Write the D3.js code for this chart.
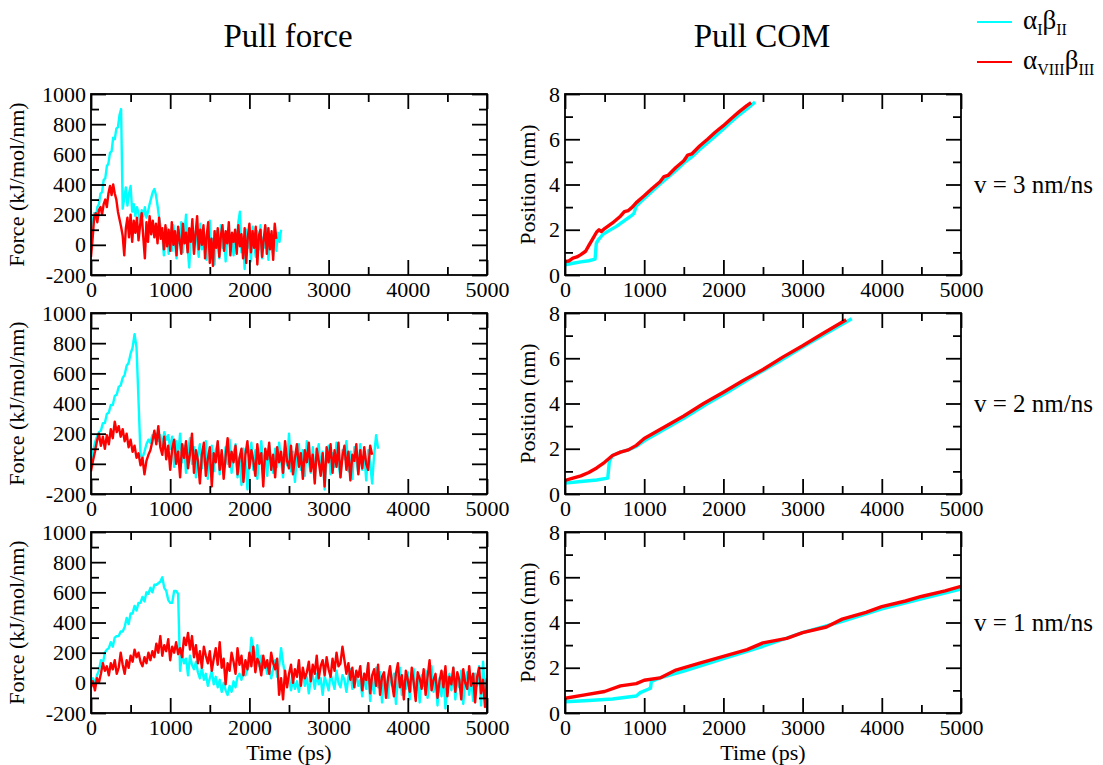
<!DOCTYPE html>
<html>
<head>
<meta charset="utf-8">
<script src="https://cdn.jsdelivr.net/npm/d3@7"></script>
<style>
  body { margin: 0; background: #fff; }
  text { font-family: "Liberation Serif", "Times New Roman", serif; fill: #000; }
</style>
</head>
<body>
<div id="chart"></div>
<script>
// time steps (ps) of the force traces
const forceStep = { v3: 20, v2: 25, v1: 25 };

// Pull force, v = 3 nm/ns
const forceCyanV3 = [
  0, 150, 210, 170, 250, 270, 340, 350, 430, 440,
  520, 540, 610, 620, 710, 700, 770, 780, 860, 900,
  240, 310, 380, 260, 340, 390, 220, 270, 190, 250,
  210, 160, 230, 190, 250, 180, 220, 270, 310, 350,
  370, 330, 260, 180, 120, 70, -70, 40, 110, -60,
  90, -40, 130, 20, -90, 100, 10, 150, -50, 80,
  200, -20, -150, 60, 120, -40, 90, 30, -80, 140,
  -30, 110, 0, -100, 80, 160, -60, 40, -130, 90,
  20, -90, 130, -20, 70, -110, 50, 110, -40, 30,
  -70, 90, 10, 150, 220, -50, 40, -160, 100, -20,
  60, -110, 120, 10, -80, 90, -30, 130, -90, 50,
  -20, 110, -100, 70, 0, -70, 120, -40, 80, 20,
  100
];
const forceRedV3 = [
  -80, 40, 180, 210, 150, 230, 250, 200, 270, 300,
  250, 340, 390, 330, 400, 340, 300, 220, 170, 120,
  60, -70, 110, 180, 50, 200, 20, 160, 80, 180,
  30, 130, 210, 50, -90, 150, 20, 190, 70, 160,
  50, 140, 10, 180, 40, 110, -30, 130, -10, 100,
  -40, 150, 0, 90, -70, 120, 30, -60, 140, 10,
  80, -50, 110, 20, 170, -60, 70, 190, -30, 100,
  0, 130, -90, 60, 150, -120, 40, -140, 90, -20,
  110, -80, 60, 130, -40, 90, 10, 150, -70, 80,
  20, 100, -60, 130, -10, 70, -90, 110, -120, 50,
  140, -50, 90, -20, 120, -130, 60, 100, -80, 30,
  130, -60, 110, -30, 90, -100, 140, 40
];

// Pull force, v = 2 nm/ns
const forceCyanV2 = [
  0, 80, 140, 180, 210, 220, 270, 270,
  330, 340, 390, 390, 450, 460, 510, 520,
  570, 590, 650, 670, 730, 770, 860, 770,
  420, 60, 40, 80, 130, 160, 140, 190,
  170, 200, 150, 190, 120, 210, 160, 190,
  100, 180, -20, 150, 60, 200, 10, 120,
  -60, 90, 170, 0, 110, -90, 60, 130,
  -30, 80, 150, -100, 40, 120, -50, 90,
  140, -70, 60, -20, 110, 0, 160, -60,
  70, 130, -90, 40, -140, 100, 20, -170,
  60, 140, -40, 90, -100, 50, 150, -30,
  80, -80, 120, 10, -60, 100, -20, 140,
  30, -90, 110, -10, 200, -50, 80, -120,
  60, 130, -40, 90, -80, 150, 20, -60,
  110, -100, 50, 130, -30, 80, -170, 40,
  120, -70, 70, -20, 140, 0, -90, 90,
  30, 150, -50, 80, -100, 110, 20, -60,
  130, -40, 70, -110, 90, 0, -130, 60,
  190, 100
];
const forceRedV2 = [
  -50, 20, 80, 150, 200, 120, 180, 100,
  190, 130, 230, 170, 280, 210, 250, 180,
  230, 150, 200, 110, 160, 80, 120, 40,
  70, -10, 40, -70, 20, 60, 90, 150,
  220, 130, 250, 110, 60, 180, 30, 120,
  -40, 100, 160, 0, 80, -90, 130, 40,
  150, -30, 70, 200, -60, 90, 20, -130,
  60, 140, -80, 30, 110, -150, 70, 10,
  150, -40, 90, -100, 50, 170, -20, 80,
  10, 120, -70, 40, 100, -120, 60, 150,
  -30, 90, 20, -80, 130, 0, 70, -150,
  100, 30, 140, -40, 60, -90, 110, 10,
  80, -60, 150, 20, -30, 120, -70, 40,
  130, -20, 70, -100, 90, 10, 140, -50,
  60, -130, 100, 20, -80, 70, -150, 110,
  10, 130, -60, 90, -20, 140, -90, 50,
  120, -40, 80, -110, 60, 20, 130, -70,
  90, -30, 110, 0, -40, 120, 60
];

// Pull force, v = 1 nm/ns
const forceCyanV1 = [
  0, 30, -10, 50, 80, 150, 130, 200,
  220, 230, 270, 240, 300, 310, 310, 340,
  340, 370, 430, 390, 460, 460, 510, 480,
  530, 530, 570, 540, 600, 590, 630, 600,
  650, 650, 660, 670, 700, 630, 610, 550,
  530, 530, 610, 610, 590, 80, 200, 130,
  160, 50, 180, 120, 90, 140, 70, 30,
  100, 20, 60, -20, 30, 80, -10, 40,
  -30, 20, -60, 0, -50, -80, -20, -60,
  10, -30, 40, 60, 20, 100, 50, 90,
  120, 300, 220, 160, 250, 110, 180, 90,
  140, 60, 120, 30, 90, 150, 40, 110,
  230, 130, 60, -10, 40, -50, 20, -40,
  10, -60, 30, 70, -20, 40, -70, 20,
  50, -40, 60, -10, 30, -80, 40, 0,
  -50, 60, 10, -40, 80, 0, -30, 50,
  20, -60, 40, 90, -40, 10, 60, -20,
  20, -90, 60, -40, 130, -120, 30, -70,
  100, -30, 70, -130, 50, 0, -100, 80,
  -20, 60, -140, 40, 100, -80, 10, -40,
  70, -110, 30, 90, -60, 20, -130, 50,
  -20, 80, -100, 10, 110, -60, 40, -150,
  30, -90, 70, -170, 20, 60, -50, 100,
  -110, 40, -30, 80, -140, 20, 70, -80,
  30, -120, 60, -20, 110, -150, 140, -60,
  50
];
const forceRedV1 = [
  -30, 10, -50, 30, 0, 60, 130, 80,
  110, 50, 130, 90, 150, 60, 100, 200,
  120, 60, 150, 100, 180, 140, 220, 170,
  200, 140, 110, 170, 130, 200, 150, 210,
  170, 260, 200, 310, 180, 250, 210, 290,
  150, 240, 200, 270, 190, 230, 170, 300,
  250, 330, 220, 310, 170, 250, 130, 210,
  100, 240, 180, 130, 210, 80, 160, 230,
  120, 270, 100, 160, -10, 130, 80, 200,
  140, 60, 230, 120, 180, 50, 150, 90,
  200, 110, 240, 70, 160, 130, 50, 180,
  100, 150, 60, 200, 130, 90, 160, -80,
  30, -110, 80, -30, 60, 120, 0, 90,
  40, 150, -20, 100, 30, 70, 140, 10,
  120, 60, 180, 30, 110, 150, 50, 170,
  90, 40, 160, 80, 200, 110, 130, 240,
  150, 60, 130, 20, 100, -30, 80, 40,
  110, -50, 60, 20, 130, -70, 50, 90,
  -20, 120, -80, 40, 70, -100, 30, 110,
  0, -90, 60, 130, -30, 50, -110, 80,
  20, -60, 100, 0, -120, 70, 30, -40,
  90, -80, 40, 150, -50, 20, 60, -100,
  10, 80, -30, 110, -90, 40, -10, 100,
  -60, 70, 20, -110, 90, 0, -40, 110,
  -20, 60, -130, 40, 100, -70, 20, -160,
  30
];

// Pull COM positions, [time (ps), position (nm)]
const posCyanV3 = [[0,0.45],[100,0.52],[200,0.58],[300,0.63],[380,0.7],[395,1.4],[420,1.55],[480,1.8],[550,1.95],[650,2.15],[750,2.4],[830,2.6],[870,2.72],[900,3.05],[1000,3.38],[1100,3.7],[1200,4.02],[1300,4.32],[1400,4.62],[1500,4.95],[1600,5.22],[1700,5.55],[1800,5.85],[1900,6.15],[2000,6.45],[2100,6.78],[2200,7.08],[2300,7.35],[2400,7.65]];
const posRedV3 = [[0,0.6],[50,0.62],[100,0.75],[150,0.8],[200,0.9],[260,1.05],[300,1.3],[350,1.6],[400,1.9],[430,2.0],[460,1.92],[500,2.05],[600,2.3],[700,2.6],[750,2.8],[800,2.85],[850,3.0],[900,3.2],[1000,3.5],[1100,3.82],[1200,4.12],[1250,4.35],[1300,4.4],[1400,4.75],[1500,5.05],[1550,5.3],[1600,5.35],[1700,5.7],[1800,6.0],[1900,6.32],[2000,6.6],[2100,6.92],[2200,7.22],[2300,7.5],[2350,7.62]];

const posCyanV2 = [[0,0.48],[200,0.55],[400,0.62],[540,0.7],[560,1.45],[600,1.7],[700,1.85],[800,1.95],[900,2.1],[1000,2.35],[1200,2.75],[1500,3.35],[1800,4.0],[2100,4.6],[2400,5.25],[2700,5.85],[3000,6.5],[3300,7.1],[3620,7.75]];
const posRedV2 = [[0,0.6],[100,0.7],[200,0.8],[300,0.95],[400,1.15],[500,1.4],[600,1.7],[700,1.85],[800,1.95],[900,2.15],[1000,2.45],[1250,2.95],[1500,3.45],[1750,4.0],[2000,4.5],[2250,5.02],[2500,5.5],[2750,6.05],[3000,6.55],[3250,7.08],[3550,7.7]];

const posCyanV1 = [[0,0.5],[300,0.55],[600,0.62],[900,0.75],[950,0.9],[1050,1.05],[1080,1.1],[1090,1.4],[1200,1.55],[1500,1.85],[2000,2.4],[2500,2.95],[3000,3.55],[3500,4.05],[4000,4.6],[4500,5.05],[5000,5.48]];
const posRedV1 = [[0,0.65],[250,0.8],[500,0.95],[700,1.2],[900,1.3],[1000,1.45],[1200,1.55],[1400,1.9],[1700,2.2],[2000,2.5],[2300,2.8],[2500,3.1],[2800,3.3],[3000,3.55],[3300,3.8],[3500,4.15],[3800,4.45],[4000,4.7],[4300,4.95],[4500,5.15],[4800,5.4],[5000,5.6]];

const rowLabels = ["v = 3 nm/ns", "v = 2 nm/ns", "v = 1 nm/ns"];
const colTitles = ["Pull force", "Pull COM"];
const cyan = "#00ffff", red = "#ff0000";
const serif = '"Liberation Serif", "Times New Roman", serif';

const W = 1103, H = 765;
const svg = d3.select("#chart").append("svg").attr("width", W).attr("height", H)
  .attr("font-family", serif);

const rowsY = [94, 313, 532], ph = 181;
const colsX = [91, 565], pw = 396;

function toPairs(vals, step) { return vals.map((v, i) => [i * step, v]); }

const rows = [
  { force: [toPairs(forceCyanV3, forceStep.v3), toPairs(forceRedV3, forceStep.v3)], pos: [posCyanV3, posRedV3] },
  { force: [toPairs(forceCyanV2, forceStep.v2), toPairs(forceRedV2, forceStep.v2)], pos: [posCyanV2, posRedV2] },
  { force: [toPairs(forceCyanV1, forceStep.v1), toPairs(forceRedV1, forceStep.v1)], pos: [posCyanV1, posRedV1] }
];

function panel(x0, y0, ydom, yMajor, yMinor, series, ytitle, titleDx, lineW, showXTitle, idx) {
  const g = svg.append("g").attr("transform", `translate(${x0},${y0})`);
  const x = d3.scaleLinear().domain([0, 5000]).range([0, pw]);
  const y = d3.scaleLinear().domain(ydom).range([ph, 0]);
  const clipId = "clip" + idx;
  g.append("clipPath").attr("id", clipId).append("rect").attr("width", pw).attr("height", ph);

  const line = d3.line().x(d => x(d[0])).y(d => y(d[1]));
  const colors = [cyan, red];
  series.forEach((s, i) => {
    g.append("path").datum(s).attr("clip-path", `url(#${clipId})`)
      .attr("fill", "none").attr("stroke", colors[i]).attr("stroke-width", lineW)
      .attr("stroke-linejoin", "round").attr("d", line);
  });

  const xMaj = d3.range(0, 5001, 1000), xMin = d3.range(500, 5000, 1000);
  const yMaj = d3.range(ydom[0], ydom[1] + 0.001, yMajor);
  const yMin = d3.range(ydom[0] + yMinor, ydom[1], yMajor);
  const fmt = d => String(d);

  const axes = [
    g.append("g").attr("transform", `translate(0,${ph})`).call(d3.axisBottom(x).tickValues(xMaj).tickSize(-15).tickPadding(6).tickFormat(fmt)),
    g.append("g").attr("transform", `translate(0,${ph})`).call(d3.axisBottom(x).tickValues(xMin).tickSize(-8).tickFormat("")),
    g.append("g").call(d3.axisTop(x).tickValues(xMaj).tickSize(-15).tickFormat("")),
    g.append("g").call(d3.axisTop(x).tickValues(xMin).tickSize(-8).tickFormat("")),
    g.append("g").call(d3.axisLeft(y).tickValues(yMaj).tickSize(-15).tickPadding(5).tickFormat(fmt)),
    g.append("g").call(d3.axisLeft(y).tickValues(yMin).tickSize(-8).tickFormat("")),
    g.append("g").attr("transform", `translate(${pw},0)`).call(d3.axisRight(y).tickValues(yMaj).tickSize(-15).tickFormat("")),
    g.append("g").attr("transform", `translate(${pw},0)`).call(d3.axisRight(y).tickValues(yMin).tickSize(-8).tickFormat(""))
  ];
  axes.forEach(a => {
    a.attr("font-family", serif).attr("font-size", 22);
    a.select(".domain").remove();
    a.selectAll("line").attr("stroke", "#000").attr("stroke-width", 1.8);
    a.selectAll("text").attr("font-size", 22).attr("font-family", serif);
  });

  g.append("rect").attr("width", pw).attr("height", ph)
    .attr("fill", "none").attr("stroke", "#000").attr("stroke-width", 1.8);

  g.append("text").attr("transform", `translate(${titleDx},${ph / 2}) rotate(-90)`)
    .attr("text-anchor", "middle").attr("font-size", 22).text(ytitle);

  if (showXTitle) {
    g.append("text").attr("x", pw / 2).attr("y", ph + 47).attr("text-anchor", "middle")
      .attr("font-size", 22).text("Time (ps)");
  }
}

rows.forEach((r, i) => {
  panel(colsX[0], rowsY[i], [-200, 1000], 200, 100, r.force, "Force (kJ/mol/nm)", -67, 2.4, i === 2, "f" + i);
  panel(colsX[1], rowsY[i], [0, 8], 2, 1, r.pos, "Position (nm)", -30, 3.4, i === 2, "p" + i);
  svg.append("text").attr("x", 974).attr("y", rowsY[i] + ph / 2 + 8)
    .attr("font-size", 25).text(rowLabels[i]);
});

colTitles.forEach((t, i) => {
  svg.append("text").attr("x", colsX[i] + pw / 2 - 1).attr("y", 47)
    .attr("text-anchor", "middle").attr("font-size", 33).text(t);
});

// legend
const legend = svg.append("g");
const legendItems = [
  { color: cyan, parts: [["α", 0], ["I", 1], ["β", 0], ["II", 1]] },
  { color: red, parts: [["α", 0], ["VIII", 1], ["β", 0], ["III", 1]] }
];
legendItems.forEach((it, i) => {
  const yy = 22 + i * 40;
  legend.append("line").attr("x1", 977).attr("x2", 1012).attr("y1", yy).attr("y2", yy)
    .attr("stroke", it.color).attr("stroke-width", 2);
  const t = legend.append("text").attr("x", 1023).attr("y", yy + 7).attr("font-size", 27);
  let sub = false;
  it.parts.forEach(([s, isSub]) => {
    const dy = isSub && !sub ? 6 : (!isSub && sub ? -6 : 0);
    t.append("tspan").attr("dy", dy).attr("font-size", isSub ? 16 : 27).text(s);
    sub = !!isSub;
  });
});
</script>
</body>
</html>
